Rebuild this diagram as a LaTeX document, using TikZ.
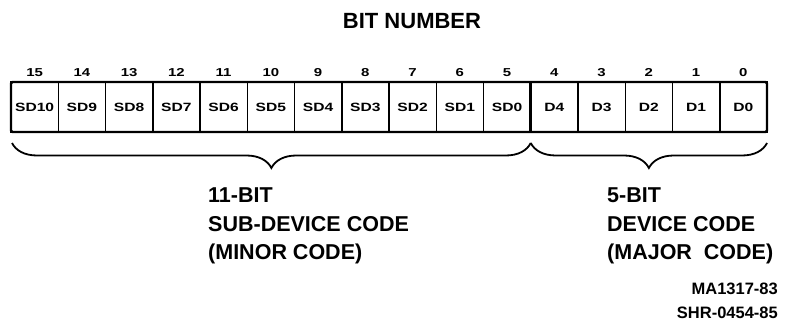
\documentclass[tikz,border=0pt]{standalone}
\usepackage{fontspec}
\setmainfont{Liberation Sans}
\newfontfamily\cellfont[FakeStretch=1.3]{Liberation Sans}
\usetikzlibrary{positioning,decorations.pathreplacing,calc}
\tikzset{
  bitcell/.style={draw,line width=1.5pt,outer sep=0pt,inner sep=0pt,
    minimum width=47.25pt,minimum height=50pt,
    font=\cellfont\bfseries\fontsize{12}{14}\selectfont},
  bitnum/.style={inner sep=0pt,font=\cellfont\bfseries\fontsize{11.5}{13}\selectfont},
  codebrace/.style={decorate,decoration={brace,mirror,amplitude=25pt},line width=1.8pt},
  codelabel/.style={anchor=north west,align=left,inner sep=0pt,
    font=\bfseries\fontsize{21.5}{28.5}\selectfont},
  figref/.style={anchor=east,inner sep=0pt,font=\bfseries\fontsize{16.5}{18}\selectfont}
}
\begin{document}
\begin{tikzpicture}[x=1pt,y=-1pt]
  \useasboundingbox (0,0) rectangle (786,321);
  \node[inner sep=0pt,font=\bfseries\fontsize{22}{24}\selectfont] (title) at (412,21) {BIT NUMBER};
  % register cells, bit 15 on the left
  \foreach \lab [count=\k from 0] in {SD10,SD9,SD8,SD7,SD6,SD5,SD4,SD3,SD2,SD1,SD0,D4,D3,D2,D1,D0} {
    \pgfmathtruncatemacro\bitno{15-\k}
    \node[bitcell] (cell\bitno) at ({34.625+47.25*\k},107) {\lab};
    \node[bitnum,above=5pt of cell\bitno] (num\bitno) {\bitno};
  }
  \draw[line width=2.2pt,rounded corners=1.5pt] (cell15.north west) rectangle (cell0.south east);
  \draw[line width=2.8pt] (cell5.north east) -- (cell5.south east);
  % field braces
  \coordinate (minorL) at ($(cell15.south west)+(1,11)$);
  \coordinate (fieldM) at ($(cell5.south east)+(0,11)$);
  \coordinate (majorR) at ($(cell0.south east)+(0,11)$);
  \draw[codebrace] (minorL) -- (fieldM);
  \draw[codebrace] (fieldM) -- (majorR);
  \node[codelabel] (minorlabel) at (208,188) {11-BIT\\SUB-DEVICE CODE\\(MINOR CODE)};
  \node[codelabel] (majorlabel) at (607,188) {5-BIT\\DEVICE CODE\\(MAJOR\hspace{6pt} CODE)};
  \node[figref] (refA) at (778,289) {MA1317-83};
  \node[figref] (refB) at (778,313) {SHR-0454-85};
\end{tikzpicture}
\end{document}
